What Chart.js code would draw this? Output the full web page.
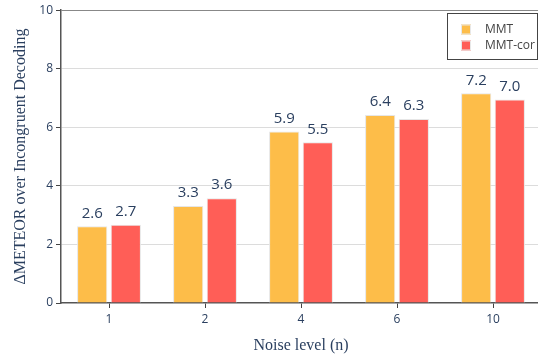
<!DOCTYPE html>
<html>
<head>
<meta charset="utf-8">
<script src="https://cdn.jsdelivr.net/npm/chart.js@4"></script>
<style>
html,body{margin:0;padding:0;background:#fff;overflow:hidden;}
#wrap{width:542px;height:358px;}
</style>
</head>
<body>
<div id="wrap"><canvas id="c" width="542" height="358"></canvas></div>
<script>
const categories = ['1', '2', '4', '6', '10'];
const mmt = [2.62, 3.31, 5.86, 6.42, 7.16];
const mmtCor = [2.67, 3.58, 5.49, 6.28, 6.95];
const yTicks = [0, 2, 4, 6, 8, 10];
const seriesNames = ['MMT', 'MMT-cor'];
const seriesColors = ['#FDBD49', '#FF5E57'];
const textColor = '#2a3f5f';

const dataLabels = {
  id: 'dataLabels',
  afterDatasetsDraw(chart) {
    const ctx = chart.ctx;
    ctx.save();
    ctx.font = '15px "Open Sans"';
    ctx.fillStyle = textColor;
    ctx.textAlign = 'center';
    ctx.textBaseline = 'middle';
    chart.data.datasets.forEach((ds, i) => {
      chart.getDatasetMeta(i).data.forEach((el, j) => {
        ctx.fillText(ds.data[j].toFixed(1), el.x, el.y - 13);
      });
    });
    ctx.restore();
  }
};

const boxLegend = {
  id: 'boxLegend',
  afterDraw(chart) {
    const ctx = chart.ctx;
    ctx.save();
    ctx.fillStyle = '#fff';
    ctx.fillRect(447.5, 13.5, 90, 46);
    ctx.strokeStyle = '#444';
    ctx.lineWidth = 1;
    ctx.strokeRect(447.5, 13.5, 90, 46);
    ctx.font = '12px "Open Sans"';
    ctx.textBaseline = 'middle';
    ctx.textAlign = 'left';
    chart.data.datasets.forEach((ds, i) => {
      const cy = 29.5 + i * 16;
      ctx.fillStyle = ds.backgroundColor;
      ctx.fillRect(461, cy - 5, 10, 10);
      ctx.strokeStyle = '#e8e8e8';
      ctx.strokeRect(461.5, cy - 4.5, 9, 9);
      ctx.fillStyle = '#444';
      ctx.fillText(ds.label, 485, cy);
    });
    ctx.restore();
  }
};

new Chart(document.getElementById('c'), {
  type: 'bar',
  data: {
    labels: categories,
    datasets: [
      { label: seriesNames[0], data: mmt, backgroundColor: seriesColors[0], borderColor: '#e6e6e6', borderWidth: 1, borderSkipped: 'bottom' },
      { label: seriesNames[1], data: mmtCor, backgroundColor: seriesColors[1], borderColor: '#e6e6e6', borderWidth: 1, borderSkipped: 'bottom' }
    ]
  },
  options: {
    responsive: false,
    animation: false,
    devicePixelRatio: 1,
    layout: { autoPadding: false, padding: { top: 8, right: 1, left: 0, bottom: 0 } },
    datasets: { bar: { categoryPercentage: 0.7, barPercentage: 0.9 } },
    plugins: { legend: { display: false }, tooltip: { enabled: false } },
    scales: {
      x: {
        afterFit(s) { s.height = 55; },
        grid: { display: true, drawOnChartArea: false, offset: false, tickLength: 5, tickColor: '#444', lineWidth: 1 },
        border: { display: true, color: '#555', width: 1.5 },
        ticks: { color: textColor, font: { family: 'Open Sans', size: 12 }, padding: 4 },
        title: { display: true, text: 'Noise level (n)', color: textColor, font: { family: 'Liberation Serif', size: 16 }, padding: { top: 6, bottom: 2.5 } }
      },
      y: {
        min: 0, max: 10,
        afterFit(s) { s.width = 61; },
        afterBuildTicks(s) { s.ticks = yTicks.map(v => ({ value: v })); },
        grid: {
          color: c => (c.tick && c.tick.value === 10) ? '#888' : (c.tick && c.tick.value === 0 ? 'rgba(0,0,0,0)' : '#dcdcdc'),
          tickColor: '#444', tickLength: 5, lineWidth: 1
        },
        border: { display: true, color: '#555', width: 1.5 },
        ticks: { color: textColor, font: { family: 'Open Sans', size: 12 }, padding: 3 },
        title: { display: true, text: 'ΔMETEOR over Incongruent Decoding', color: textColor, font: { family: 'Liberation Serif', size: 16 }, padding: { top: 11, bottom: 2 } }
      }
    }
  },
  plugins: [dataLabels, boxLegend]
});
</script>
</body>
</html>
